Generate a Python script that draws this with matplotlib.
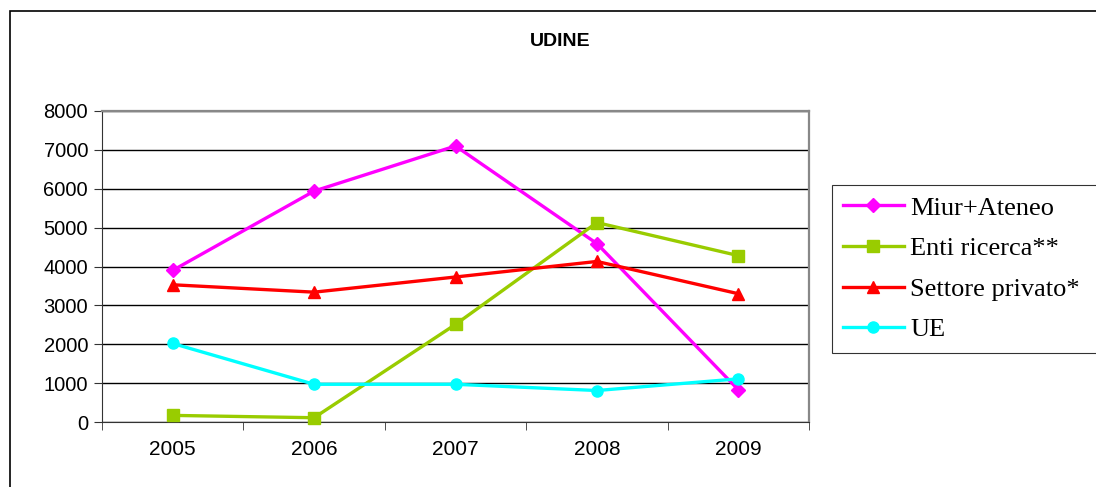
import numpy as np
import matplotlib
matplotlib.use("Agg")
import matplotlib.pyplot as plt
from matplotlib.patches import Rectangle

years = ["2005", "2006", "2007", "2008", "2009"]
miur = [3900, 5940, 7100, 4590, 830]
enti = [170, 110, 2510, 5130, 4280]
privato = [3530, 3340, 3730, 4130, 3300]
ue = [2020, 970, 970, 810, 1110]

series = [
    ("Miur+Ateneo", miur, "#FF00FF", "D"),
    ("Enti ricerca**", enti, "#99CC00", "s"),
    ("Settore privato*", privato, "#FF0000", "^"),
    ("UE", ue, "#00FFFF", "o"),
]

plt.rcParams['font.family'] = ['Liberation Sans', 'DejaVu Sans']

W, H = 1096, 487
fig = plt.figure(figsize=(W / 100, H / 100), dpi=100)
# plot area in pixels: x 102..809, y 111..422
ax = fig.add_axes([102 / W, (H - 422) / H, 707 / W, 311 / H])

x = np.arange(len(years))
for name, vals, col, mk in series:
    ax.plot(x, vals, color=col, marker=mk, lw=2.4, ms=8 if mk != "D" else 7.5,
            label=name, clip_on=False, zorder=3)

ax.set_xlim(-0.5, len(years) - 0.5)
ax.set_ylim(0, 8000)
ax.set_yticks(np.arange(0, 8001, 1000))
ax.set_xticks(x)
ax.set_xticklabels(years)
ax.set_xticks(np.arange(-0.5, len(years), 1), minor=True)
ax.tick_params(axis="x", which="major", length=0, pad=13, labelsize=15)
ax.tick_params(axis="x", which="minor", length=6, direction="out", color="#333333")
ax.tick_params(axis="y", length=6, direction="out", labelsize=14.5, pad=4, color="#333333")
ax.yaxis.grid(True, color="black", lw=1)
ax.set_axisbelow(True)
for s in ["top", "right"]:
    ax.spines[s].set_color("#888888")
    ax.spines[s].set_linewidth(1.6)
ax.spines["left"].set_color("#333333")
ax.spines["bottom"].set_color("#333333")

fig.text(560 / W, 1 - 41 / H, "UDINE", ha="center", va="center",
         fontsize=14, fontweight="bold")

leg = fig.legend(loc="upper left",
                 bbox_to_anchor=(832 / W, 1 - 348 / H, 280 / W, 163 / H),
                 mode="expand",
                 prop={"family": ["Liberation Serif"], "size": 19},
                 frameon=True, fancybox=False, handlelength=2.3,
                 labelspacing=0.65, borderpad=0.42, handletextpad=0.25,
                 borderaxespad=0)
leg.get_frame().set_edgecolor("black")
leg.get_frame().set_linewidth(0.8)

fig.patches.append(Rectangle((10 / W, -0.1), 1.2, 1 - 11 / H + 0.1,
                             transform=fig.transFigure, fill=False,
                             edgecolor="black", lw=1.2))

fig.savefig("out.png", dpi=100)
